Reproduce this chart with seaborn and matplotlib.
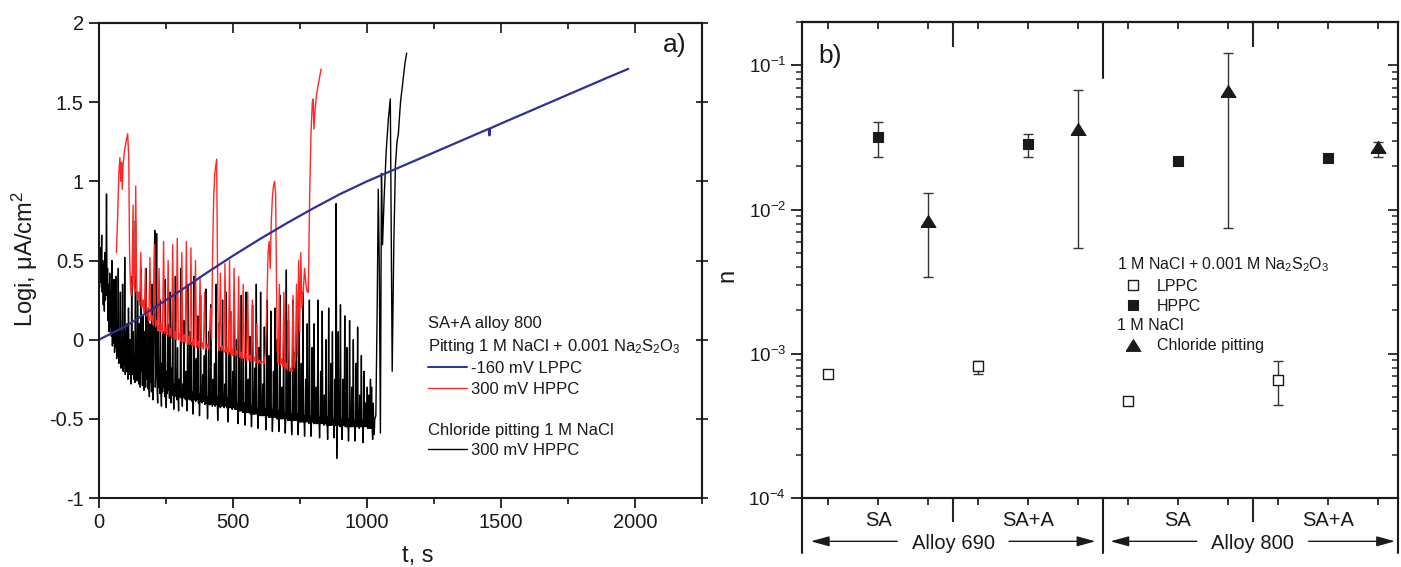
import numpy as np
import pandas as pd
import matplotlib
matplotlib.use("Agg")
import matplotlib.pyplot as plt
import seaborn as sns
from matplotlib.lines import Line2D
from matplotlib.ticker import MultipleLocator, FuncFormatter, LogLocator, NullFormatter, NullLocator

# ---------------- Panel a) data: (t [s], log i [uA/cm2]) ----------------
lppc_160mV = [(0, 0.00), (100, 0.085), (200, 0.195), (300, 0.305), (400, 0.42), (500, 0.53),
              (600, 0.635), (700, 0.735), (800, 0.83), (900, 0.92), (1000, 1.00), (1100, 1.073),
              (1200, 1.146), (1300, 1.219), (1400, 1.292), (1455, 1.332), (1457, 1.29), (1459, 1.334),
              (1500, 1.365), (1600, 1.438), (1700, 1.511), (1800, 1.584), (1900, 1.657), (1975, 1.71)]

hppc_300mV_thio = [
    (65, 0.55), (70, 0.80), (74, 1.05), (78, 1.15), (81, 1.00), (84, 1.12), (87, 0.95), (90, 1.10),
    (94, 1.18), (98, 1.22), (102, 1.26), (107, 1.30), (111, 1.15), (114, 0.55), (117, 0.35), (120, 0.28),
    (124, 0.40), (127, 0.85), (130, 0.35), (134, 0.30), (137, 0.97), (140, 0.40), (143, 0.25), (148, 0.30),
    (152, 0.22), (156, 0.55), (160, 0.20), (165, 0.25), (169, 0.17), (173, 0.45), (177, 0.15), (182, 0.20),
    (186, 0.12), (190, 0.52), (194, 0.12), (199, 0.15), (203, 0.09), (207, 0.60), (211, 0.08), (216, 0.12),
    (220, 0.06), (224, 0.45), (228, 0.05), (233, 0.10), (237, 0.04), (241, 0.62), (245, 0.04), (250, 0.08),
    (254, 0.03), (258, 0.50), (262, 0.02), (267, 0.07), (271, 0.01), (275, 0.60), (279, 0.01), (284, 0.05),
    (288, 0.00), (292, 0.64), (296, 0.00), (301, 0.04), (305, -0.01), (309, 0.55), (313, -0.02), (318, 0.03),
    (322, -0.02), (326, 0.62), (330, -0.03), (335, 0.02), (339, -0.03), (343, 0.58), (347, -0.04), (352, 0.00),
    (356, -0.04), (360, 0.50), (364, -0.05), (369, -0.01), (373, -0.05), (377, 0.40), (381, -0.05), (386, -0.02),
    (390, -0.06), (394, 0.30), (398, -0.06), (404, -0.03), (410, -0.06), (416, 0.20), (420, 0.00), (424, 0.55),
    (428, 0.90), (432, 1.05), (436, 1.10), (439, 1.14), (442, 0.50), (445, 0.00), (449, -0.07), (453, 0.42),
    (457, -0.07), (462, -0.04), (466, -0.08), (470, 0.48), (474, -0.08), (479, -0.05), (483, -0.09), (487, 0.50),
    (491, -0.09), (496, -0.06), (500, -0.10), (504, 0.45), (508, -0.10), (513, -0.07), (517, -0.11), (521, 0.40),
    (525, -0.11), (530, -0.08), (534, -0.12), (538, 0.35), (542, -0.12), (547, -0.09), (551, -0.13), (555, 0.30),
    (559, -0.13), (564, -0.10), (568, -0.14), (572, 0.25), (576, -0.14), (581, -0.11), (585, -0.15), (589, 0.10),
    (593, -0.15), (598, -0.13), (604, -0.15), (610, -0.14), (616, -0.15), (621, -0.08), (626, 0.20), (631, 0.55),
    (635, 0.62), (639, 0.45), (643, 0.75), (647, 0.90), (651, 0.97), (655, 1.00), (659, 0.92), (662, 0.40),
    (665, -0.05), (669, -0.15), (673, 0.35), (677, -0.16), (682, -0.12), (686, -0.17), (690, 0.30), (694, -0.18),
    (699, -0.15), (703, -0.19), (707, 0.22), (711, -0.20), (716, -0.18), (720, -0.20), (724, 0.28), (728, -0.18),
    (733, -0.12), (737, 0.35), (741, -0.10), (745, 0.50), (749, 0.05), (753, 0.55), (757, 0.20), (762, 0.30),
    (767, 0.45), (772, 0.35), (777, 0.30), (781, 0.30), (786, 0.90), (791, 1.30), (796, 1.50), (799, 1.52),
    (802, 1.33), (806, 1.45), (812, 1.55), (820, 1.63), (829, 1.71)]

chloride_300mV = [
    # 0-100 s
    (0, 0.52), (2, 0.33), (4, 0.58), (6, 0.36), (8, 0.45), (10, 0.66), (12, 0.30), (14, 0.50), (16, 0.22),
    (18, 0.48), (20, 0.18), (22, 0.55), (24, 0.25), (26, 0.40), (28, 0.92), (30, 0.28), (32, 0.45), (34, 0.12),
    (36, 0.35), (38, 0.05), (40, 0.42), (42, 0.08), (44, 0.30), (46, 0.02), (48, 0.50), (50, -0.04), (52, 0.20),
    (54, -0.02), (56, 0.38), (58, -0.08), (60, 0.15), (62, -0.05), (64, 0.40), (66, -0.12), (68, 0.10),
    (70, -0.10), (72, 0.45), (74, -0.15), (76, 0.05), (78, -0.12), (80, 0.30), (82, -0.18), (84, 0.00),
    (86, -0.13), (88, 0.35), (90, -0.20), (92, -0.05), (94, -0.16), (96, 0.52), (98, -0.22), (100, 0.05),
    # 100-300 s
    (102, -0.20), (104, 0.10), (106, -0.15), (108, -0.25), (110, 0.20), (112, -0.12), (114, -0.22), (116, 0.00),
    (118, -0.18), (120, -0.28), (122, 0.40), (124, -0.15), (126, -0.22), (128, 0.05), (130, -0.25), (132, -0.10),
    (134, -0.27), (136, 0.75), (138, -0.20), (140, -0.05), (142, -0.26), (144, 0.30), (146, -0.18), (148, -0.28),
    (150, 0.10), (152, -0.22), (154, -0.30), (156, 0.45), (158, -0.20), (160, -0.10), (162, -0.29), (164, 0.15),
    (166, -0.24), (168, -0.32), (170, 0.05), (172, -0.22), (174, -0.30), (176, 0.45), (178, -0.25), (180, -0.15),
    (182, -0.31), (184, 0.20), (186, -0.26), (188, -0.36), (190, 0.10), (192, -0.27), (194, -0.18), (196, -0.33),
    (198, 0.35), (200, -0.28), (202, -0.38), (205, 0.20), (208, 0.69), (210, -0.30), (212, -0.20), (215, 0.67),
    (217, -0.32), (219, -0.40), (221, 0.05), (223, -0.30), (225, -0.22), (227, -0.34), (229, 0.25), (231, -0.31),
    (233, -0.42), (235, -0.15), (237, -0.33), (239, 0.05), (241, -0.30), (243, -0.24), (245, -0.36), (247, 0.38),
    (249, -0.32), (251, -0.43), (253, -0.20), (255, -0.34), (257, 0.10), (259, -0.32), (261, -0.25), (263, -0.37),
    (265, 0.30), (267, -0.34), (269, -0.40), (271, -0.18), (273, -0.35), (275, 0.20), (277, -0.33), (279, -0.44),
    (281, -0.28), (283, -0.36), (285, 0.40), (287, -0.34), (289, -0.30), (291, -0.38), (293, -0.05), (295, -0.35),
    (297, -0.45), (299, -0.25),
    # 300-520 s
    (301, -0.36), (303, -0.30), (305, 0.45), (307, -0.37), (309, -0.32), (311, -0.42), (313, -0.28), (315, -0.36),
    (317, 0.12), (319, -0.37), (321, -0.30), (323, -0.38), (325, -0.20), (327, -0.37), (329, -0.45), (331, 0.35),
    (333, -0.36), (335, -0.31), (337, -0.38), (339, 0.05), (341, -0.38), (343, -0.32), (345, -0.02), (347, -0.39),
    (349, -0.33), (351, -0.47), (353, -0.35), (355, 0.40), (357, -0.38), (359, -0.30), (361, -0.39), (363, -0.12),
    (365, -0.38), (367, -0.33), (369, 0.15), (371, -0.40), (373, -0.34), (375, -0.48), (377, -0.36), (379, 0.28),
    (381, -0.39), (383, -0.33), (385, -0.40), (387, -0.22), (389, -0.39), (391, -0.34), (393, -0.10), (395, -0.41),
    (397, -0.35), (399, 0.32), (401, -0.40), (403, -0.36), (405, -0.50), (407, -0.37), (409, 0.05), (411, -0.41),
    (413, -0.35), (415, -0.41), (417, 0.22), (419, -0.40), (421, -0.36), (423, -0.42), (425, -0.25), (427, -0.41),
    (429, -0.36), (431, -0.15), (433, -0.42), (435, -0.37), (437, 0.35), (439, -0.41), (441, -0.36), (443, -0.51),
    (445, -0.38), (447, 0.10), (449, -0.42), (451, -0.37), (453, -0.43), (455, -0.05), (457, -0.42), (459, -0.37),
    (461, 0.25), (463, -0.42), (465, -0.38), (467, -0.43), (469, -0.28), (471, -0.42), (473, -0.38), (475, 0.30),
    (477, -0.43), (479, -0.37), (481, -0.52), (483, -0.39), (485, -0.08), (487, -0.43), (489, -0.38), (491, 0.18),
    (493, -0.43), (495, -0.39), (497, -0.44), (499, -0.20), (501, -0.43), (503, -0.38), (505, 0.30), (507, -0.44),
    (509, -0.39), (511, -0.44), (513, 0.00), (515, -0.44), (517, -0.40), (519, -0.53),
    # 520-800 s
    (521, -0.41), (523, 0.05), (525, -0.45), (527, -0.40), (529, -0.45), (531, 0.28), (533, -0.45), (535, -0.41),
    (537, -0.46), (539, -0.12), (541, -0.45), (543, -0.40), (545, -0.54), (547, -0.42), (549, 0.30), (551, -0.46),
    (553, -0.41), (555, -0.46), (557, -0.25), (559, -0.46), (561, -0.41), (563, 0.02), (565, -0.47), (567, -0.42),
    (569, -0.55), (571, -0.43), (573, 0.22), (575, -0.47), (577, -0.42), (579, -0.47), (581, -0.18), (583, -0.47),
    (585, -0.42), (587, 0.35), (589, -0.47), (591, -0.43), (593, -0.56), (595, -0.44), (597, -0.05), (599, -0.48),
    (601, -0.43), (603, 0.30), (605, -0.48), (607, -0.43), (609, -0.48), (611, -0.28), (613, -0.48), (615, -0.43),
    (617, 0.08), (619, -0.48), (621, -0.44), (623, -0.57), (625, -0.45), (627, 0.25), (629, -0.48), (631, -0.44),
    (633, -0.49), (635, -0.10), (637, -0.49), (639, -0.44), (641, 0.18), (643, -0.49), (645, -0.44), (647, -0.58),
    (649, -0.46), (651, -0.20), (653, -0.49), (655, -0.45), (657, 0.20), (659, -0.49), (661, -0.45), (663, -0.50),
    (665, 0.00), (667, -0.50), (669, -0.45), (671, -0.58), (673, -0.46), (675, 0.28), (677, -0.50), (679, -0.45),
    (681, -0.50), (683, -0.30), (685, -0.50), (687, -0.46), (689, 0.10), (691, -0.50), (693, -0.46), (695, -0.59),
    (697, -0.47), (699, 0.44), (701, -0.50), (703, -0.46), (705, -0.51), (707, 0.12), (709, -0.51), (711, -0.46),
    (713, -0.20), (715, -0.51), (717, -0.47), (719, -0.60), (721, -0.48), (723, 0.25), (725, -0.51), (727, -0.47),
    (729, -0.51), (731, -0.08), (733, -0.51), (735, -0.47), (737, 0.05), (739, -0.51), (741, -0.47), (743, -0.60),
    (745, -0.48), (747, 0.22), (749, -0.52), (751, -0.47), (753, -0.52), (755, -0.15), (757, -0.52), (759, -0.47),
    (761, 0.30), (763, -0.52), (765, -0.48), (767, -0.61), (769, -0.49), (771, -0.25), (773, -0.52), (775, -0.48),
    (777, 0.10), (779, -0.52), (781, -0.48), (783, -0.53), (785, 0.25), (787, -0.52), (789, -0.48), (791, -0.61),
    (793, -0.50), (795, -0.05), (797, -0.52), (799, -0.48),
    # 800-1030 s
    (801, -0.53), (803, 0.10), (805, -0.53), (807, -0.48), (809, -0.53), (811, -0.30), (813, -0.53), (815, -0.48),
    (817, 0.25), (819, -0.53), (821, -0.49), (823, -0.62), (825, -0.50), (827, -0.20), (829, -0.53), (831, -0.49),
    (833, 0.18), (835, -0.53), (837, -0.49), (839, -0.54), (841, -0.35), (843, -0.53), (845, -0.49), (847, 0.00),
    (849, -0.54), (851, -0.49), (853, -0.63), (855, -0.50), (857, 0.20), (859, -0.54), (861, -0.49), (863, -0.54),
    (865, -0.15), (867, -0.54), (869, -0.49), (871, 0.05), (873, -0.54), (875, -0.50), (877, -0.62), (879, -0.51),
    (881, -0.25), (883, -0.54), (885, 0.86), (887, -0.75), (889, -0.54), (891, -0.49), (893, 0.05), (895, -0.54),
    (897, -0.50), (899, -0.55), (901, 0.22), (903, -0.54), (905, -0.50), (907, -0.63), (909, -0.51), (911, -0.25),
    (913, -0.54), (915, -0.50), (917, 0.15), (919, -0.55), (921, -0.50), (923, -0.55), (925, -0.05), (927, -0.55),
    (929, -0.50), (931, -0.64), (933, -0.51), (935, 0.12), (937, -0.55), (939, -0.50), (941, -0.55), (943, -0.30),
    (945, -0.55), (947, -0.50), (949, 0.00), (951, -0.55), (953, -0.51), (955, -0.64), (957, -0.52), (959, -0.15),
    (961, -0.55), (963, -0.51), (965, 0.08), (967, -0.55), (969, -0.51), (971, -0.56), (973, -0.35), (975, -0.55),
    (977, -0.51), (979, -0.10), (981, -0.55), (983, -0.51), (985, -0.65), (987, -0.52), (989, -0.20), (991, -0.55),
    (993, -0.51), (995, -0.40), (997, -0.55), (999, -0.51), (1001, -0.30), (1003, -0.56), (1005, -0.50),
    (1007, -0.35), (1009, -0.56), (1011, -0.45), (1013, -0.25), (1015, -0.56), (1017, -0.30), (1019, -0.55),
    (1021, -0.63), (1023, -0.40), (1025, -0.52), (1027, -0.60), (1029, -0.50),
    # final breakdown
    (1033, -0.48), (1038, 0.20), (1042, 0.95), (1046, 0.45), (1050, -0.59), (1054, 1.05), (1058, 0.60),
    (1064, 0.90), (1072, 1.20), (1080, 1.40), (1087, 1.52), (1091, 0.50), (1094, -0.20), (1100, 0.60),
    (1106, 1.10), (1112, 1.25), (1117, 1.30), (1125, 1.50), (1135, 1.65), (1142, 1.75), (1148, 1.81)]

legend_a_labels = ["SA+A alloy 800", "Pitting 1 M NaCl + 0.001 Na$_2$S$_2$O$_3$",
                   "-160 mV LPPC", "300 mV HPPC", " ", "Chloride pitting 1 M NaCl", "300 mV HPPC"]

# ---------------- Panel b) data: pitting parameter n ----------------
alloys = ["Alloy 690", "Alloy 800"]
conditions = ["SA", "SA+A"]
series_names = ["LPPC", "HPPC", "Chloride pitting"]
# order: (690 SA, 690 SA+A, 800 SA, 800 SA+A)
n_lppc = [7.3e-4, 8.2e-4, 4.7e-4, 6.6e-4]
n_lppc_lo = [7.3e-4, 7.3e-4, 4.7e-4, 4.4e-4]
n_lppc_hi = [7.3e-4, 8.9e-4, 4.7e-4, 8.9e-4]
n_hppc = [0.0317, 0.0284, 0.0218, 0.0229]
n_hppc_lo = [0.0232, 0.0232, 0.0218, 0.0216]
n_hppc_hi = [0.0407, 0.0336, 0.0218, 0.0243]
n_chl = [0.0084, 0.0365, 0.066, 0.027]
n_chl_lo = [0.0034, 0.0054, 0.0075, 0.0233]
n_chl_hi = [0.0130, 0.067, 0.121, 0.0292]
legend_b_labels = ["1 M NaCl + 0.001 M Na$_2$S$_2$O$_3$", "LPPC", "HPPC", "1 M NaCl", "Chloride pitting"]

# ---------------- style ----------------
sns.set_theme(style="ticks")
plt.rcParams["font.family"] = ["Liberation Sans", "DejaVu Sans"]
plt.rcParams["mathtext.fontset"] = "custom"
plt.rcParams["mathtext.rm"] = "Liberation Sans"
plt.rcParams["mathtext.it"] = "Liberation Sans:italic"
plt.rcParams["mathtext.bf"] = "Liberation Sans:bold"
plt.rcParams["axes.unicode_minus"] = False
plt.rcParams["axes.linewidth"] = 1.5
plt.rcParams["axes.edgecolor"] = "#1a1a1a"
INK = "#1a1a1a"
BLUE = "#2e3192"
RED = "#ff2626"

W, H = 1401, 567
fig = plt.figure(figsize=(W / 100, H / 100), dpi=100)


def frac(l, t, r, b):
    return [l / W, 1 - b / H, (r - l) / W, (b - t) / H]


ax1 = fig.add_axes(frac(99, 23, 702, 498))
ax2 = fig.add_axes(frac(802, 22, 1398, 498))

# ---------------- Panel a ----------------
def to_df(pairs, name):
    t, y = zip(*pairs)
    return pd.DataFrame({"t": t, "logi": y, "series": name})


df_blk = to_df(chloride_300mV, "chl")
df_red = to_df(hppc_300mV_thio, "hppc")
df_blu = to_df(lppc_160mV, "lppc")
sns.lineplot(data=df_blk, x="t", y="logi", sort=False, estimator=None, color="black", lw=1.0, ax=ax1)
sns.lineplot(data=df_red, x="t", y="logi", sort=False, estimator=None, color=RED, lw=1.0, ax=ax1)
sns.lineplot(data=df_blu, x="t", y="logi", sort=False, estimator=None, color=BLUE, lw=1.6, ax=ax1)

ax1.set_xlim(0, 2250)
ax1.set_ylim(-1, 2)
ax1.xaxis.set_major_locator(MultipleLocator(500))
ax1.xaxis.set_minor_locator(MultipleLocator(250))
ax1.yaxis.set_major_locator(MultipleLocator(0.5))
ax1.yaxis.set_minor_locator(NullLocator())
ax1.yaxis.set_major_formatter(FuncFormatter(lambda v, p: f"{v:g}"))
ax1.tick_params(which="major", direction="out", length=7, width=1.3, labelsize=14.5, colors=INK, pad=4)
ax1.tick_params(which="minor", direction="out", length=4, width=1.3)
ax1.set_xlabel("t, s", fontsize=17, color=INK)
ax1.set_ylabel("Logi, μA/cm$^2$", fontsize=17, color=INK)
ax1.xaxis.set_label_coords(0.529, -0.098)
ax1.yaxis.set_label_coords(-0.098, 0.503)
for s in ax1.spines.values():
    s.set_linewidth(1.5)

sx1 = ax1.secondary_xaxis("top")
sx1.xaxis.set_major_locator(MultipleLocator(500))
sx1.xaxis.set_minor_locator(MultipleLocator(250))
sx1.xaxis.set_major_formatter(NullFormatter())
sx1.tick_params(which="major", direction="in", length=7, width=1.3)
sx1.tick_params(which="minor", direction="in", length=4, width=1.3)
sy1 = ax1.secondary_yaxis("right")
sy1.yaxis.set_major_locator(MultipleLocator(0.5))
sy1.yaxis.set_minor_locator(NullLocator())
sy1.yaxis.set_major_formatter(NullFormatter())
sy1.tick_params(which="major", direction="inout", length=9, width=1.3)

ax1.text(0.975, 0.953, "a)", transform=ax1.transAxes, ha="right", va="center", fontsize=19, color=INK)

blank = Line2D([], [], linestyle="none")
h1 = [blank, blank, Line2D([], [], color=BLUE, lw=1.4), Line2D([], [], color=RED, lw=1.0),
      blank, blank, Line2D([], [], color="black", lw=1.0)]
leg1 = ax1.legend(h1, legend_a_labels, loc="upper left", bbox_to_anchor=(0.546, 0.383), frameon=False,
                  fontsize=12, handlelength=2.34, handletextpad=0.24, labelspacing=0.33,
                  borderpad=0, borderaxespad=0)
for i in (0, 1, 5):
    leg1.get_texts()[i].set_x(-43)
for t in leg1.get_texts():
    t.set_color(INK)

# ---------------- Panel b ----------------
vals = {"LPPC": (n_lppc, n_lppc_lo, n_lppc_hi),
        "HPPC": (n_hppc, n_hppc_lo, n_hppc_hi),
        "Chloride pitting": (n_chl, n_chl_lo, n_chl_hi)}
rows = []
for a_i, alloy in enumerate(alloys):
    for c_i, cond in enumerate(conditions):
        k = a_i * len(conditions) + c_i
        for s_i, name in enumerate(series_names):
            v, lo, hi = vals[name]
            rows.append(dict(alloy=alloy, cond=cond, series=name,
                             pos=k * len(series_names) + s_i + 1, n=v[k], lo=lo[k], hi=hi[k]))
df = pd.DataFrame(rows)

eb = df[(df.hi > df.n) | (df.lo < df.n)]
ax2.errorbar(eb.pos, eb.n, yerr=[eb.n - eb.lo, eb.hi - eb.n], fmt="none", ecolor="#333333",
             elinewidth=1.0, capsize=3.3, capthick=1.0, zorder=2)

TRI = [(-1, -0.8), (1, -0.8), (0, 0.8), (-1, -0.8)]
sns.scatterplot(data=df[df.series == "LPPC"], x="pos", y="n", marker="s", s=55, color="white",
                edgecolor=INK, linewidth=1.0, ax=ax2, zorder=3, legend=False)
sns.scatterplot(data=df[df.series == "HPPC"], x="pos", y="n", marker="s", s=55, color=INK,
                edgecolor=INK, linewidth=0.8, ax=ax2, zorder=3, legend=False)
sns.scatterplot(data=df[df.series == "Chloride pitting"], x="pos", y="n", marker=TRI, s=115, color=INK,
                edgecolor=INK, linewidth=0.8, ax=ax2, zorder=3, legend=False)

ax2.set_yscale("log")
ax2.set_ylim(1e-4, 0.2)
npos = len(df)
ax2.set_xlim(0.473, npos + 0.41)
ax2.yaxis.tick_left()
ax2.yaxis.set_major_locator(LogLocator(base=10, numticks=10))
ax2.yaxis.set_minor_locator(LogLocator(base=10, subs=np.arange(2, 10), numticks=20))
ax2.yaxis.set_minor_formatter(NullFormatter())
ax2.tick_params(axis="y", which="major", direction="out", length=8, width=1.3, labelsize=13.5, colors=INK)
ax2.tick_params(axis="y", which="minor", direction="out", length=4, width=1.1)

positions = sorted(df.pos.unique())
group_size = len(series_names)
cond_bounds = [a * len(conditions) * group_size + group_size + 0.5 for a in range(len(alloys))]
alloy_bounds = [a * len(conditions) * group_size + 0.5 for a in range(1, len(alloys))]
ax2.set_xticks(positions)
ax2.set_xticklabels([])
ax2.set_xticks(cond_bounds, minor=True)
ax2.tick_params(axis="x", which="major", direction="out", length=5, width=1.3)
ax2.tick_params(axis="x", which="minor", direction="out", length=17, width=1.5)
ax2.set_xlabel("")
ax2.set_ylabel("n", fontsize=17, color=INK)
ax2.yaxis.set_label_coords(-0.106, 0.468)
for s in ax2.spines.values():
    s.set_linewidth(1.5)

sx2 = ax2.secondary_xaxis("top")
sx2.set_xticks(positions)
sx2.set_xticks(cond_bounds, minor=True)
sx2.xaxis.set_major_formatter(NullFormatter())
sx2.xaxis.set_minor_formatter(NullFormatter())
sx2.tick_params(which="major", direction="in", length=5, width=1.3)
sx2.tick_params(which="minor", direction="in", length=18, width=1.5)

ax2r = ax2.twinx()
ax2r.set_yscale("log")
ax2r.set_ylim(ax2.get_ylim())
ax2r.yaxis.set_major_locator(LogLocator(base=10, numticks=10))
ax2r.yaxis.set_minor_locator(LogLocator(base=10, subs=np.arange(2, 10), numticks=20))
ax2r.yaxis.set_major_formatter(NullFormatter())
ax2r.yaxis.set_minor_formatter(NullFormatter())
ax2r.tick_params(axis="y", which="major", direction="in", length=7, width=1.3)
ax2r.tick_params(axis="y", which="minor", direction="in", length=4, width=1.1)
for s in ax2r.spines.values():
    s.set_linewidth(1.5)

xt = ax2.get_xaxis_transform()
ext = 55 / 476
x0, x1 = ax2.get_xlim()
for xb in [x0, x1]:
    ax2.plot([xb, xb], [0, -ext], transform=xt, color=INK, lw=1.5, clip_on=False)
for xb in alloy_bounds:
    ax2.plot([xb, xb], [0, -ext], transform=xt, color=INK, lw=1.5, clip_on=False)
    ax2.plot([xb, xb], [1, 1 - 56 / 476], transform=xt, color=INK, lw=1.5, clip_on=False)

for (alloy, cond), g in df.groupby(["alloy", "cond"], sort=False):
    ax2.text(g.pos.mean(), -0.048, cond, transform=xt, ha="center", va="center", fontsize=14.5, color=INK)
for alloy, g in df.groupby("alloy", sort=False):
    c = g.pos.mean()
    ax2.text(c, -0.095, alloy, transform=xt, ha="center", va="center", fontsize=14.5, color=INK)
    for sgn in (-1, 1):
        ax2.annotate("", xy=(c + sgn * 2.85, -0.091), xytext=(c + sgn * 1.12, -0.091), xycoords=xt,
                     textcoords=xt, annotation_clip=False,
                     arrowprops=dict(arrowstyle="-|>,head_length=0.8,head_width=0.22", color=INK,
                                     lw=1.0, mutation_scale=14, shrinkA=0, shrinkB=0))

ax2.text(0.027, 0.929, "b)", transform=ax2.transAxes, ha="left", va="center", fontsize=19, color=INK)

h2 = [blank,
      Line2D([], [], ls="none", marker="s", ms=7.2, mfc="white", mec=INK, mew=1.0),
      Line2D([], [], ls="none", marker="s", ms=7.2, mfc=INK, mec=INK, mew=0.8),
      blank,
      Line2D([], [], ls="none", marker=TRI, ms=10.5, mfc=INK, mec=INK, mew=0.8)]
leg2 = ax2.legend(h2, legend_b_labels, loc="upper left", bbox_to_anchor=(0.5285, 0.51), frameon=False,
                  fontsize=11.5, handlelength=2.0, handletextpad=0.5, labelspacing=0.3,
                  borderpad=0, borderaxespad=0)
for i in (0, 3):
    leg2.get_texts()[i].set_x(-40)
for t in leg2.get_texts():
    t.set_color(INK)

fig.savefig("out.png", dpi=100)
